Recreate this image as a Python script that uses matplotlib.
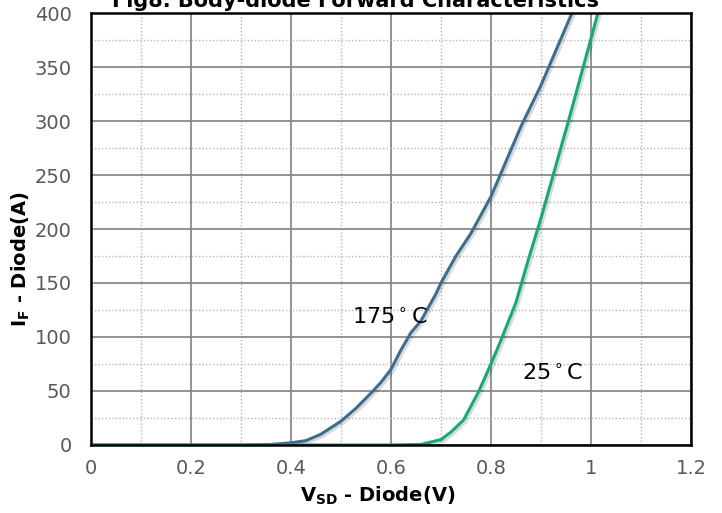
import matplotlib
matplotlib.use("Agg")
import matplotlib.pyplot as plt
import matplotlib.patheffects as pe
from matplotlib.ticker import MultipleLocator

# ===== Datos =====
vsd_175 = [0.0, 0.30, 0.36, 0.40, 0.43, 0.46, 0.50, 0.53, 0.56, 0.58, 0.60,
           0.62, 0.64, 0.66, 0.69, 0.70, 0.73, 0.76, 0.80, 0.86, 0.90, 0.962]
if_175 = [0, 0, 0.5, 2, 4, 10, 22, 34, 48, 58, 70,
          88, 104, 115, 140, 150, 175, 196, 230, 295, 333, 400]

vsd_25 = [0.0, 0.60, 0.66, 0.70, 0.72, 0.745, 0.775, 0.80, 0.82, 0.85,
          0.875, 0.90, 0.955, 1.014]
if_25 = [0, 0, 0.5, 5, 12, 23, 49, 75, 97, 132,
         172, 210, 300, 400]

x_ticks = [0, 0.2, 0.4, 0.6, 0.8, 1.0, 1.2]
x_labels = ["0", "0.2", "0.4", "0.6", "0.8", "1", "1.2"]
y_ticks = [0, 50, 100, 150, 200, 250, 300, 350, 400]

c_175 = "#3d6d8c"
c_25 = "#17a87a"

# ===== Figura =====
fig = plt.figure(figsize=(7.22, 5.13), dpi=100)
ax = fig.add_axes([0.126, 0.1326, 0.831, 0.842])

sombra = [pe.SimpleLineShadow(offset=(1.5, -1.5), alpha=0.15), pe.Normal()]
ax.plot(vsd_175, if_175, color=c_175, lw=2.2, path_effects=sombra, zorder=3)
ax.plot(vsd_25, if_25, color=c_25, lw=2.2, path_effects=sombra, zorder=3)

ax.set_xlim(0, 1.2)
ax.set_ylim(0, 400)
ax.set_xticks(x_ticks)
ax.set_xticklabels(x_labels)
ax.set_yticks(y_ticks)
ax.xaxis.set_minor_locator(MultipleLocator(0.1))
ax.yaxis.set_minor_locator(MultipleLocator(25))

ax.grid(which="major", color="#8a8a8a", lw=1.3, ls="-", zorder=1)
ax.grid(which="minor", color="#b5b5b5", lw=1.0, ls=(0, (1, 1.5)), zorder=1)
ax.set_axisbelow(True)

ax.tick_params(which="both", length=0)
ax.tick_params(axis="both", labelsize=14, labelcolor="#595959")
ax.tick_params(axis="x", pad=10)
ax.tick_params(axis="y", pad=14)
for s in ax.spines.values():
    s.set_color("black")
    s.set_linewidth(1.8)
    s.set_zorder(4)

ax.set_xlabel("V$_\\mathbf{SD}$ - Diode(V)", fontsize=14, fontweight="bold")
ax.xaxis.set_label_coords(0.478, -0.092)
ax.set_ylabel("I$_\\mathbf{F}$ - Diode(A)", fontsize=14, fontweight="bold")
ax.yaxis.set_label_coords(-0.098, 0.43)

ax.text(0.522, 118, "175$^\\circ$C", fontsize=16, va="center", ha="left",
        zorder=5)
ax.text(0.862, 66, "25$^\\circ$C", fontsize=16, va="center", ha="left",
        zorder=5)

fig.text(0.493, 1 - 7 / 513, "Fig8. Body-diode Forward Characteristics",
         fontsize=15, fontweight="bold", ha="center", va="baseline")

fig.savefig("out.png", dpi=100)
